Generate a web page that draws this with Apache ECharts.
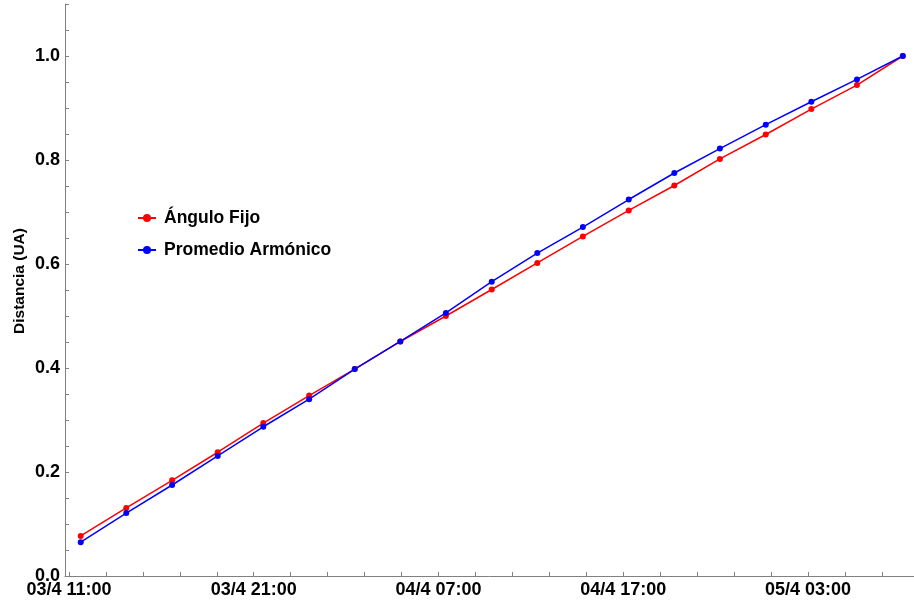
<!DOCTYPE html>
<html>
<head>
<meta charset="utf-8">
<script src="https://cdn.jsdelivr.net/npm/echarts@6/dist/echarts.min.js"></script>
<style>
  html, body { margin: 0; padding: 0; background: #ffffff; }
  #chart { width: 914px; height: 602px; }
</style>
</head>
<body>
<div id="chart"></div>
<script>
// Sampling instants (day/month hour:minute), April
var times = [
  '03/4 11:38', '03/4 14:06', '03/4 16:35', '03/4 19:03', '03/4 21:31',
  '04/4 00:00', '04/4 02:28', '04/4 04:56', '04/4 07:24', '04/4 09:53',
  '04/4 12:21', '04/4 14:49', '04/4 17:18', '04/4 19:46', '04/4 22:14',
  '05/4 00:43', '05/4 03:11', '05/4 05:39', '05/4 08:08'
];

// Distance in astronomical units for each method
var anguloFijo = [
  0.077, 0.131, 0.184, 0.238, 0.294, 0.347, 0.398, 0.451, 0.500, 0.551,
  0.602, 0.653, 0.703, 0.751, 0.802, 0.849, 0.898, 0.944, 1.000
];
var promedioArmonico = [
  0.065, 0.121, 0.175, 0.231, 0.287, 0.340, 0.398, 0.451, 0.506, 0.566,
  0.621, 0.671, 0.724, 0.775, 0.822, 0.868, 0.912, 0.955, 1.000
];

var seriesNames = ['Ángulo Fijo', 'Promedio Armónico'];

// Labelled instants on the time axis (hours since 00:00 on day 0)
var xLabelHours = [83, 93, 103, 113, 123];
var yLabelValues = [0, 0.2, 0.4, 0.6, 0.8, 1.0];

function toHours(s) {
  var parts = s.split(' ');
  var day = parseInt(parts[0].split('/')[0], 10);
  var hm = parts[1].split(':');
  return day * 24 + parseInt(hm[0], 10) + parseInt(hm[1], 10) / 60;
}
function pad2(n) { return (n < 10 ? '0' : '') + n; }
function hourLabel(h) {
  var r = Math.round(h);
  var day = Math.floor(r / 24);
  return pad2(day) + '/4 ' + pad2(r % 24) + ':00';
}

var xHours = times.map(toHours);
function pairs(vals) { return xHours.map(function (x, i) { return [x, vals[i]]; }); }

// Minor ticks: every 2 h on x, every 0.05 on y
var xTicks = [];
for (var h = 83; h <= 127; h += 2) xTicks.push(h);
var yTicks = [];
for (var k = 0; k <= 22; k++) yTicks.push(Math.round(k * 5) / 100);

var axisGray = '#808080';
var font = '"Liberation Sans", Arial, sans-serif';

var chart = echarts.init(document.getElementById('chart'), null, { renderer: 'canvas' });
chart.setOption({
  animation: false,
  backgroundColor: '#ffffff',
  grid: { left: 65, right: 0, top: 4, bottom: 26, containLabel: false, outerBoundsMode: 'none' },
  legend: {
    orient: 'vertical',
    left: 137,
    top: 208,
    padding: 0,
    itemWidth: 18,
    itemHeight: 10,
    itemGap: 12,
    data: seriesNames,
    textStyle: { fontFamily: font, fontWeight: 'bold', fontSize: 17.5, color: '#000', lineHeight: 20, padding: [0, 0, 0, 3] }
  },
  xAxis: {
    type: 'value',
    min: 82.7835,
    max: 128.74,
    splitLine: { show: false },
    axisLine: { show: true, lineStyle: { color: axisGray, width: 1 } },
    axisTick: { show: true, inside: true, length: 4, customValues: xTicks, lineStyle: { color: axisGray } },
    axisLabel: {
      customValues: xLabelHours,
      formatter: function (v) { return hourLabel(v); },
      fontFamily: font, fontWeight: 'bold', fontSize: 18, color: '#000', margin: 5
    }
  },
  yAxis: {
    type: 'value',
    min: 0,
    max: 1.1,
    name: 'Distancia (UA)',
    nameLocation: 'middle',
    nameGap: 37,
    nameMoveOverlap: false,
    nameTextStyle: { fontFamily: font, fontWeight: 'bold', fontSize: 15.5, color: '#000', padding: [0, 0, 0, 18] },
    splitLine: { show: false },
    axisLine: { show: true, lineStyle: { color: axisGray, width: 1 } },
    axisTick: { show: true, inside: true, length: 4, customValues: yTicks, lineStyle: { color: axisGray } },
    axisLabel: {
      customValues: yLabelValues,
      formatter: function (v) { return v.toFixed(1); },
      fontFamily: font, fontWeight: 'bold', fontSize: 18, color: '#000', margin: 5
    }
  },
  series: [
    {
      name: seriesNames[0],
      type: 'line',
      data: pairs(anguloFijo),
      color: '#ff0000',
      symbol: 'circle',
      symbolSize: 6,
      showAllSymbol: true,
      lineStyle: { width: 1.5, color: '#ff0000' },
      itemStyle: { color: '#ff0000' }
    },
    {
      name: seriesNames[1],
      type: 'line',
      data: pairs(promedioArmonico),
      color: '#0000ff',
      symbol: 'circle',
      symbolSize: 6,
      showAllSymbol: true,
      lineStyle: { width: 1.5, color: '#0000ff' },
      itemStyle: { color: '#0000ff' }
    }
  ]
});
</script>
</body>
</html>
